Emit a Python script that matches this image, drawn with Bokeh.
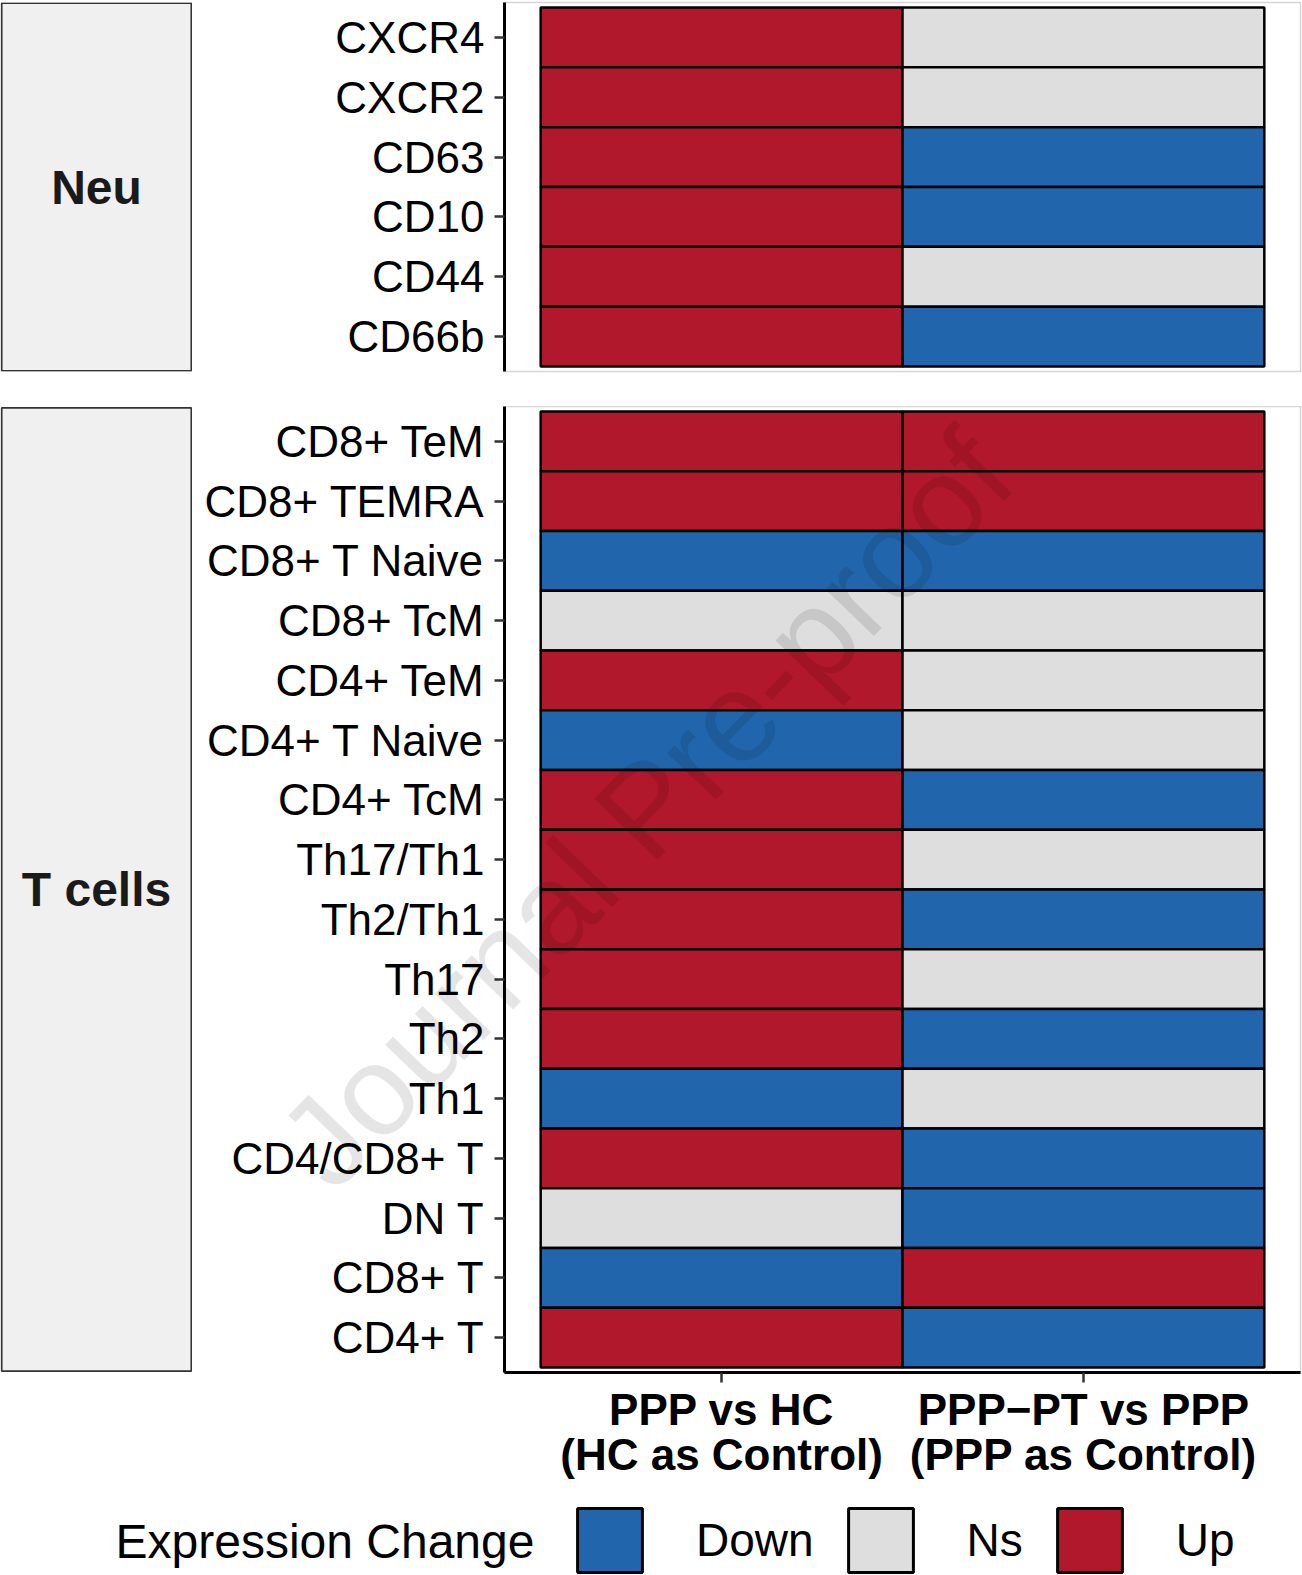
from bokeh.plotting import figure
from bokeh.layouts import column, row
from bokeh.models import FactorRange, Range1d, Legend, LegendItem, Label, ColumnDataSource
from bokeh.transform import factor_cmap
from bokeh.core.properties import value
from bokeh.embed import file_html
from bokeh.resources import INLINE

# ---- data -------------------------------------------------------------
comparisons = ["PPP vs HC\n(HC as Control)", "PPP\u2212PT vs PPP\n(PPP as Control)"]

change_levels = ["Down", "Ns", "Up"]
change_colors = ["#2166AC", "#DEDEDE", "#B2182B"]

neu_markers = ["CXCR4", "CXCR2", "CD63", "CD10", "CD44", "CD66b"]
neu_ppp_vs_hc = ["Up", "Up", "Up", "Up", "Up", "Up"]
neu_ppppt_vs_ppp = ["Ns", "Ns", "Down", "Down", "Ns", "Down"]

t_markers = ["CD8+ TeM", "CD8+ TEMRA", "CD8+ T Naive", "CD8+ TcM", "CD4+ TeM",
             "CD4+ T Naive", "CD4+ TcM", "Th17/Th1", "Th2/Th1", "Th17", "Th2",
             "Th1", "CD4/CD8+ T", "DN T", "CD8+ T", "CD4+ T"]
t_ppp_vs_hc = ["Up", "Up", "Down", "Ns", "Up", "Down", "Up", "Up", "Up", "Up",
               "Up", "Down", "Up", "Ns", "Down", "Up"]
t_ppppt_vs_ppp = ["Up", "Up", "Down", "Ns", "Ns", "Ns", "Down", "Ns", "Down", "Ns",
                  "Down", "Ns", "Down", "Down", "Up", "Down"]

FONT = "Liberation Sans"
PAGE_W, PAGE_H = 1302, 1575
PANEL_W = 1110
STRIP_W = 192
NAN = float("nan")

# panel geometry: (border top, frame height, border bottom)
NEU_BOX = (2, 369, 35)
T_BOX = (0, 966, 118)


def heat_panel(markers, first, second, box, show_x):
    top, frame_h, bottom = box
    src = ColumnDataSource(dict(
        comparison=[comparisons[0]] * len(markers) + [comparisons[1]] * len(markers),
        marker=list(markers) * 2,
        change=list(first) + list(second),
    ))
    p = figure(
        width=PANEL_W, height=top + frame_h + bottom,
        x_range=FactorRange(factors=comparisons, range_padding=0.1,
                            range_padding_units="absolute"),
        y_range=FactorRange(factors=list(reversed(markers)), range_padding=0.084,
                            range_padding_units="absolute"),
        output_backend="svg", toolbar_location=None,
        x_axis_location="below" if show_x else None,
        min_border=0, min_border_left=312, min_border_right=2,
        min_border_top=top, min_border_bottom=bottom,
    )
    p.grid.visible = False
    p.outline_line_color = "#D6D6D6"
    p.outline_line_width = 1.5
    p.rect(x="comparison", y="marker", width=1, height=1, source=src,
           fill_color=factor_cmap("change", change_colors, change_levels),
           line_color="black", line_width=2.5)

    for ax in p.axis:
        ax.axis_line_color = "black"
        ax.axis_line_width = 3
        ax.major_tick_line_color = "#333333"
        ax.major_tick_line_width = 2.5
        ax.major_tick_out = 10
        ax.major_tick_in = 0
        ax.major_label_text_font = FONT
        ax.major_label_text_color = "black"
    p.yaxis.major_label_text_font_size = "44px"
    p.yaxis.major_label_standoff = 10
    if show_x:
        p.xaxis.major_label_text_font_size = "44px"
        p.xaxis.major_label_text_font_style = "bold"
        p.xaxis.major_label_standoff = 2
        p.xaxis.major_label_text_line_height = 0.93
    return p


def strip(label, box):
    top, frame_h, bottom = box
    s = figure(
        width=STRIP_W, height=top + frame_h + bottom,
        x_range=Range1d(-0.006, 1.006), y_range=Range1d(-0.0015, 1.0015),
        output_backend="svg", toolbar_location=None,
        x_axis_location=None, y_axis_location=None,
        min_border=0, min_border_top=top, min_border_bottom=bottom,
    )
    s.grid.visible = False
    s.outline_line_color = None
    s.quad(left=[0], right=[1], bottom=[0], top=[1],
           fill_color="#F0F0F0", line_color="#333333", line_width=1.8)
    s.text(x=[0.5], y=[0.5], text=[label], text_align="center",
           text_baseline="middle", text_font=value(FONT),
           text_font_style="bold", text_font_size="48px", text_color="#1A1A1A")
    return s


p_neu = heat_panel(neu_markers, neu_ppp_vs_hc, neu_ppppt_vs_ppp, NEU_BOX, False)
s_neu = strip("Neu", NEU_BOX)

p_t = heat_panel(t_markers, t_ppp_vs_hc, t_ppppt_vs_ppp, T_BOX, True)
s_t = strip("T cells", T_BOX)

# legend strip: canvas-sized ranges so the title sits beside the keys
LEG_H = PAGE_H - sum(NEU_BOX) - sum(T_BOX)
lf = figure(
    width=PAGE_W, height=LEG_H, x_range=Range1d(0, PAGE_W), y_range=Range1d(0, LEG_H),
    output_backend="svg", toolbar_location=None,
    x_axis_location=None, y_axis_location=None, min_border=0,
)
lf.grid.visible = False
lf.outline_line_color = None
lf.text(x=[115], y=[34], text=["Expression Change"], text_align="left",
        text_baseline="middle", text_font=value(FONT), text_font_size="48px",
        text_color="black")
# key swatches: one undrawn (NaN) quad per level feeds the legend glyphs
keys = [lf.quad(left=[NAN], right=[NAN], top=[NAN], bottom=[NAN], fill_color=c,
                line_color="black", line_width=3) for c in change_colors]
legend = Legend(
    items=[LegendItem(label=lab, renderers=[r]) for lab, r in zip(change_levels, keys)],
    orientation="horizontal", location=(569, -5),
    glyph_width=81, glyph_height=80, label_standoff=46, spacing=26,
    padding=0, margin=0, border_line_color=None, background_fill_alpha=0,
    label_text_font=FONT, label_text_font_size="46px", label_text_color="black",
    label_text_baseline="middle", label_height=80,
)
lf.add_layout(legend)

# transparent full-page layer carrying the diagonal watermark
wm = figure(
    width=PAGE_W, height=PAGE_H, x_range=Range1d(0, PAGE_W), y_range=Range1d(PAGE_H, 0),
    output_backend="svg", toolbar_location=None,
    x_axis_location=None, y_axis_location=None, min_border=0,
    background_fill_alpha=0, border_fill_alpha=0, outline_line_color=None,
    margin=(-PAGE_H, 0, 0, 0),
)
wm.grid.visible = False
wm.add_layout(Label(
    x=645, y=808, text="Journal Pre-proof", angle=46, angle_units="deg",
    text_align="center", text_baseline="middle", text_font=FONT,
    text_font_size="128px", text_color="black", text_alpha=0.1,
))

layout = column(row(s_neu, p_neu), row(s_t, p_t), lf, wm)

open("out.html", "w").write(file_html(layout, INLINE))
